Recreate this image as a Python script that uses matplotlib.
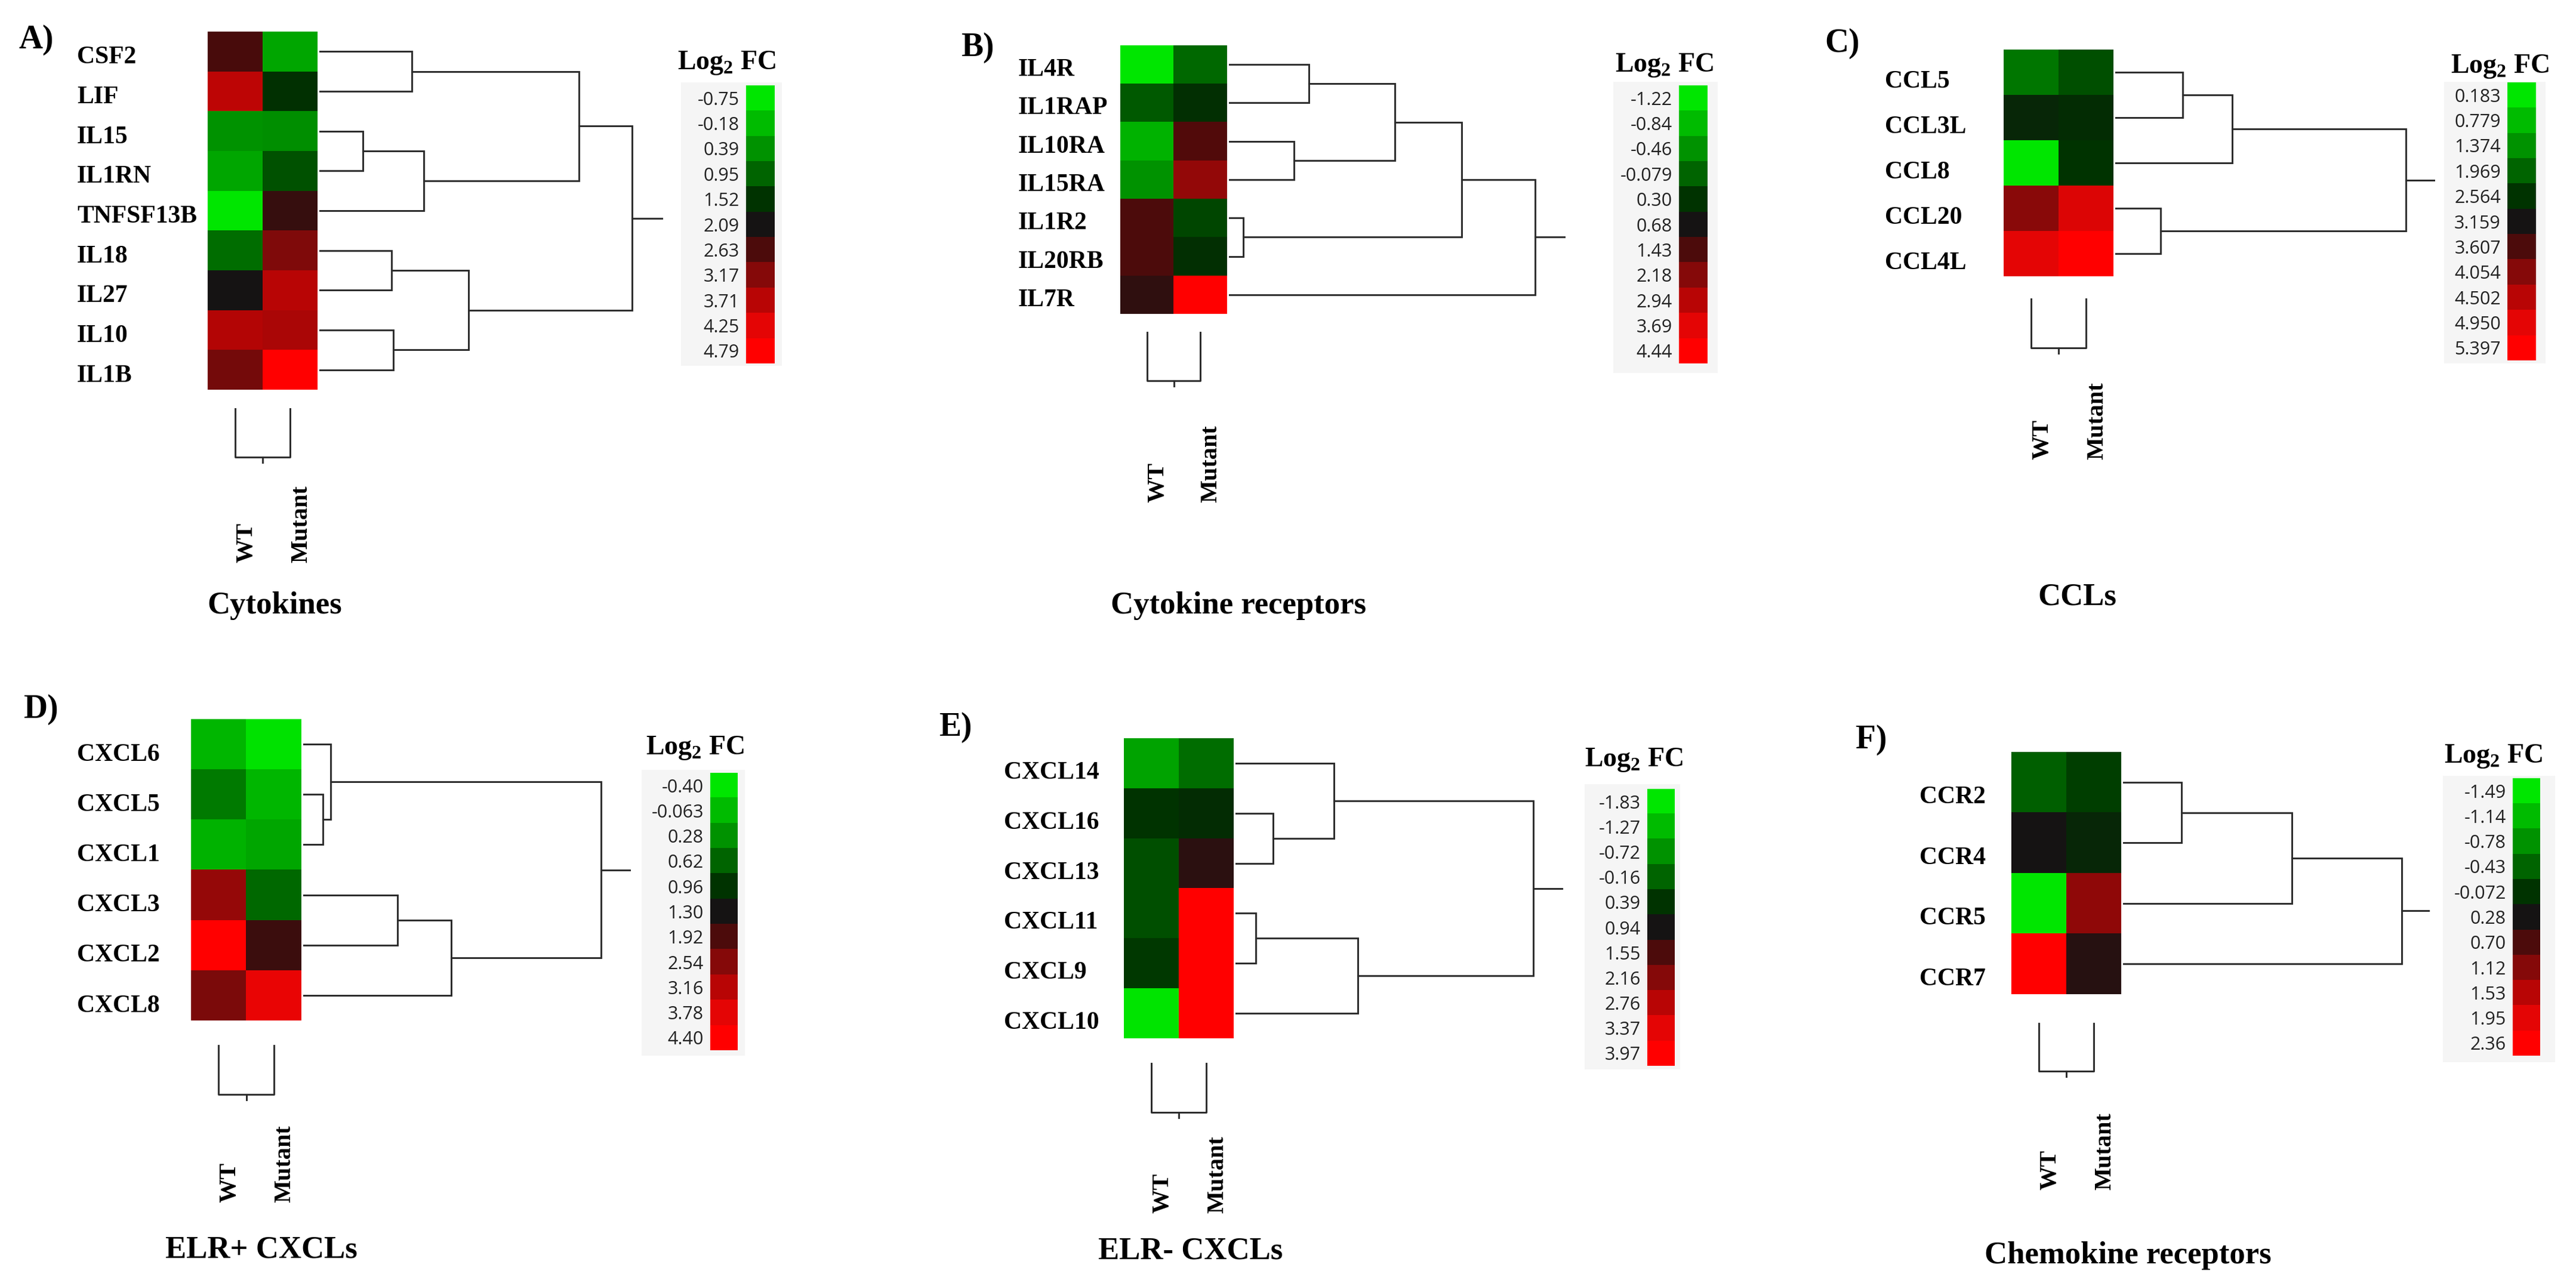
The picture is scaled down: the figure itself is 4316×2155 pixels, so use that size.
import numpy as np
import matplotlib
matplotlib.use("Agg")
import matplotlib.pyplot as plt
import matplotlib.colors as mcolors
from matplotlib.transforms import blended_transform_factory

# === Data (log2 fold change) ===
samples = ["WT", "Mutant"]

cyto_genes = ["CSF2", "LIF", "IL15", "IL1RN", "TNFSF13B", "IL18", "IL27", "IL10", "IL1B"]
cyto_wt = [2.58, 3.76, 0.39, 0.10, -0.75, 0.84, 2.09, 3.66, 3.00]
cyto_mut = [0.10, 1.57, 0.45, 1.17, 2.41, 3.12, 3.71, 3.55, 4.79]
cyto_ticks = ["-0.75", "-0.18", "0.39", "0.95", "1.52", "2.09", "2.63", "3.17", "3.71", "4.25", "4.79"]
cyto_link = [(2, 3, 0.79), (0, 1, 1.68), (5, 6, 1.31), (7, 8, 1.34),
             (9, 4, 1.90), (11, 12, 2.71), (10, 13, 4.71), (15, 14, 5.68)]

rec_genes = ["IL4R", "IL1RAP", "IL10RA", "IL15RA", "IL1R2", "IL20RB", "IL7R"]
rec_wt = [-1.22, 0.00, -0.75, -0.46, 1.43, 1.43, 1.05]
rec_mut = [-0.12, 0.34, 1.50, 2.40, 0.15, 0.34, 4.44]
rec_ticks = ["-1.22", "-0.84", "-0.46", "-0.079", "0.30", "0.68", "1.43", "2.18", "2.94", "3.69", "4.44"]
rec_link = [(4, 5, 0.26), (2, 3, 1.18), (0, 1, 1.45), (9, 8, 3.01), (10, 7, 4.23), (11, 6, 5.56)]

ccl_genes = ["CCL5", "CCL3L", "CCL8", "CCL20", "CCL4L"]
ccl_wt = [1.73, 2.80, 0.183, 4.10, 4.95]
ccl_mut = [2.21, 2.68, 2.56, 4.86, 5.397]
ccl_ticks = ["0.183", "0.779", "1.374", "1.969", "2.564", "3.159", "3.607", "4.054", "4.502", "4.950", "5.397"]
ccl_link = [(3, 4, 0.82), (0, 1, 1.23), (6, 2, 2.12), (7, 5, 5.28)]

elrp_genes = ["CXCL6", "CXCL5", "CXCL1", "CXCL3", "CXCL2", "CXCL8"]
elrp_wt = [-0.03, 0.45, 0.02, 2.73, 4.40, 2.42]
elrp_mut = [-0.37, -0.03, 0.11, 0.59, 1.73, 3.90]
elrp_ticks = ["-0.40", "-0.063", "0.28", "0.62", "0.96", "1.30", "1.92", "2.54", "3.16", "3.78", "4.40"]
elrp_link = [(1, 2, 0.36), (0, 6, 0.50), (3, 4, 1.71), (8, 5, 2.69), (7, 9, 5.41)]

elrm_genes = ["CXCL14", "CXCL16", "CXCL13", "CXCL11", "CXCL9", "CXCL10"]
elrm_wt = [-0.94, 0.39, 0.06, 0.06, 0.33, -1.80]
elrm_mut = [-0.27, 0.50, 1.20, 3.97, 3.97, 3.97]
elrm_ticks = ["-1.83", "-1.27", "-0.72", "-0.16", "0.39", "0.94", "1.55", "2.16", "2.76", "3.37", "3.97"]
elrm_link = [(1, 2, 0.68), (0, 6, 1.79), (3, 4, 0.37), (8, 5, 2.22), (7, 9, 5.41)]

ccr_genes = ["CCR2", "CCR4", "CCR5", "CCR7"]
ccr_wt = [-0.39, 0.28, -1.49, 2.36]
ccr_mut = [-0.15, 0.07, 1.20, 0.42]
ccr_ticks = ["-1.49", "-1.14", "-0.78", "-0.43", "-0.072", "0.28", "0.70", "1.12", "1.53", "1.95", "2.36"]
ccr_link = [(0, 1, 1.06), (4, 2, 3.07), (5, 3, 5.06)]

sample_link = [(0, 1, 1.0)]

# === Colours: green - black - red, 11 steps ===
palette = ["#00e600", "#00bb00", "#009200", "#006400", "#003300", "#141414",
           "#4d0b0b", "#850a0a", "#b80505", "#e40606", "#ff0000"]
cmap = mcolors.LinearSegmentedColormap.from_list("gbr", palette)

# === Layout in reference pixels (left, top, right, bottom) ===
W, H = 4316, 2155
panels = [
    dict(tag="A)", title="Cytokines", genes=cyto_genes, wt=cyto_wt, mut=cyto_mut, ticks=cyto_ticks, link=cyto_link,
         heat=(348, 53, 532, 653), lab_x=129, lab_off=0.15, tag_xy=(32, 67), root_px=524,
         box=(1141, 138, 1310, 613), strip=(1250, 143, 1298, 609), cb_title=(1218, 106),
         col_dend=(684, 766), col_lab=943, title_xy=(460, 1015)),
    dict(tag="B)", title="Cytokine receptors", genes=rec_genes, wt=rec_wt, mut=rec_mut, ticks=rec_ticks, link=rec_link,
         heat=(1877, 76, 2056, 526), lab_x=1706, lab_off=0.14, tag_xy=(1610, 80), root_px=513,
         box=(2703, 137, 2878, 625), strip=(2813, 143, 2861, 609), cb_title=(2789, 109),
         col_dend=(556, 638), col_lab=842, title_xy=(2075, 1015)),
    dict(tag="C)", title="CCLs", genes=ccl_genes, wt=ccl_wt, mut=ccl_mut, ticks=ccl_ticks, link=ccl_link,
         heat=(3357, 83, 3541, 463), lab_x=3158, lab_off=0.21, tag_xy=(3057, 73), root_px=487,
         box=(4095, 137, 4265, 609), strip=(4201, 138, 4249, 604), cb_title=(4189, 111),
         col_dend=(500, 583), col_lab=770, title_xy=(3480, 1001)),
    dict(tag="D)", title="ELR+ CXCLs", genes=elrp_genes, wt=elrp_wt, mut=elrp_mut, ticks=elrp_ticks, link=elrp_link,
         heat=(320, 1205, 505, 1710), lab_x=129, lab_off=0.21, tag_xy=(39, 1189), root_px=499,
         box=(1075, 1290, 1248, 1769), strip=(1190, 1295, 1236, 1760), cb_title=(1165, 1253),
         col_dend=(1751, 1834), col_lab=2015, title_xy=(438, 2095)),
    dict(tag="E)", title="ELR- CXCLs", genes=elrm_genes, wt=elrm_wt, mut=elrm_mut, ticks=elrm_ticks, link=elrm_link,
         heat=(1883, 1237, 2067, 1740), lab_x=1682, lab_off=0.19, tag_xy=(1573, 1219), root_px=499,
         box=(2655, 1314, 2815, 1792), strip=(2760, 1322, 2806, 1786), cb_title=(2738, 1274),
         col_dend=(1781, 1864), col_lab=2033, title_xy=(1995, 2097)),
    dict(tag="F)", title="Chemokine receptors", genes=ccr_genes, wt=ccr_wt, mut=ccr_mut, ticks=ccr_ticks, link=ccr_link,
         heat=(3370, 1260, 3554, 1666), lab_x=3216, lab_off=0.25, tag_xy=(3109, 1240), root_px=467,
         box=(4093, 1300, 4281, 1780), strip=(4210, 1304, 4256, 1769), cb_title=(4178, 1268),
         col_dend=(1714, 1795), col_lab=1994, title_xy=(3565, 2104)),
]

SERIF = ["Liberation Serif", "DejaVu Serif"]
SANS = ["Open Sans", "DejaVu Sans"]
plt.rcParams["mathtext.fontset"] = "custom"
plt.rcParams["mathtext.bf"] = "Liberation Serif:bold"
plt.rcParams["mathtext.rm"] = "Liberation Serif:bold"
LINE = "#2b2b2b"


def rect(l, t, r, b):
    return [l / W, 1 - b / H, (r - l) / W, (b - t) / H]


def make_norm(tick_vals):
    idx = np.arange(len(tick_vals), dtype=float)
    fwd = lambda x: np.interp(x, tick_vals, idx)
    inv = lambda x: np.interp(x, idx, tick_vals)
    return mcolors.FuncNorm((fwd, inv), vmin=tick_vals[0], vmax=tick_vals[-1])


def dendro_lines(link, n):
    pos = {i: float(i) for i in range(n)}
    hgt = {i: 0.0 for i in range(n)}
    lines = []
    for k, (a, b, h) in enumerate(link):
        lines.append(([hgt[a], h, h, hgt[b]], [pos[a], pos[a], pos[b], pos[b]]))
        pos[n + k] = (pos[a] + pos[b]) / 2
        hgt[n + k] = h
    root = n + len(link) - 1
    return lines, hgt[root], pos[root]


fig = plt.figure(figsize=(W / 100, H / 100), dpi=100)
fig.patch.set_facecolor("white")

for p in panels:
    n = len(p["genes"])
    tick_vals = np.array([float(t) for t in p["ticks"]])
    norm = make_norm(tick_vals)
    data = np.column_stack([p["wt"], p["mut"]])
    l, t, r, b = p["heat"]

    # === heat map
    ax = fig.add_axes(rect(l, t, r, b))
    ax.imshow(data, cmap=cmap, norm=norm, aspect="auto", interpolation="nearest")
    ax.set_xlim(-0.5, 1.5)
    ax.set_ylim(n - 0.5, -0.5)
    ax.axis("off")
    tr = blended_transform_factory(ax.transAxes, ax.transData)
    lab_x = (p["lab_x"] - l) / (r - l)
    for i, g in enumerate(p["genes"]):
        ax.text(lab_x, i + p["lab_off"], g, transform=tr, ha="left", va="center",
                fontsize=30, fontweight="bold", family=SERIF)
    tr2 = blended_transform_factory(ax.transData, ax.transAxes)
    lab_y = -(p["col_lab"] - b) / (b - t)
    for j, s in enumerate(samples):
        ax.text(j + 0.2, lab_y, s, transform=tr2, rotation=90, ha="center", va="bottom",
                fontsize=29, fontweight="bold", family=SERIF)

    # === row dendrogram
    lines, root_h, root_pos = dendro_lines(p["link"], n)
    dax = fig.add_axes(rect(r + 3, t, r + 3 + p["root_px"] * 1.1, b))
    for xs, ys in lines:
        dax.plot(xs, ys, color=LINE, lw=2.1, solid_joinstyle="miter")
    dax.plot([root_h, root_h * 1.1], [root_pos, root_pos], color=LINE, lw=2.1)
    dax.set_xlim(0, root_h * 1.1)
    dax.set_ylim(n - 0.5, -0.5)
    dax.axis("off")

    # === column dendrogram
    ct, cb = p["col_dend"]
    clines, croot_h, croot_pos = dendro_lines(sample_link, 2)
    cax = fig.add_axes(rect(l, ct, r, cb + (cb - ct) * 0.13))
    for xs, ys in clines:
        cax.plot(ys, xs, color=LINE, lw=2.1)
    cax.plot([croot_pos, croot_pos], [croot_h, croot_h * 1.13], color=LINE, lw=2.1)
    cax.set_xlim(-0.5, 1.5)
    cax.set_ylim(croot_h * 1.13, 0)
    cax.axis("off")

    # === colour key
    bax = fig.add_axes(rect(*p["box"]))
    bax.set_facecolor("#f5f5f5")
    bax.set_xticks([])
    bax.set_yticks([])
    for sp in bax.spines.values():
        sp.set_visible(False)
    sax = fig.add_axes(rect(*p["strip"]))
    sax.imshow(tick_vals.reshape(-1, 1), cmap=cmap, norm=norm, aspect="auto", interpolation="nearest")
    sax.set_xticks([])
    sax.set_yticks(range(len(p["ticks"])))
    sax.set_yticklabels(p["ticks"], fontsize=22, family=SANS, color="#222222")
    sax.tick_params(axis="y", length=0, pad=8)
    for sp in sax.spines.values():
        sp.set_visible(False)
    fig.text(p["cb_title"][0] / W, 1 - p["cb_title"][1] / H, r"Log$_\mathbf{2}$ FC",
             ha="center", va="center", fontsize=33, fontweight="bold", family=SERIF)

    # === panel tag and group title
    fig.text(p["tag_xy"][0] / W, 1 - p["tag_xy"][1] / H, p["tag"], ha="left", va="center",
             fontsize=40, fontweight="bold", family=SERIF)
    fig.text(p["title_xy"][0] / W, 1 - p["title_xy"][1] / H, p["title"], ha="center", va="center",
             fontsize=38, fontweight="bold", family=SERIF)

fig.savefig("out.png", dpi=100, facecolor="white")
print("saved out.png")
